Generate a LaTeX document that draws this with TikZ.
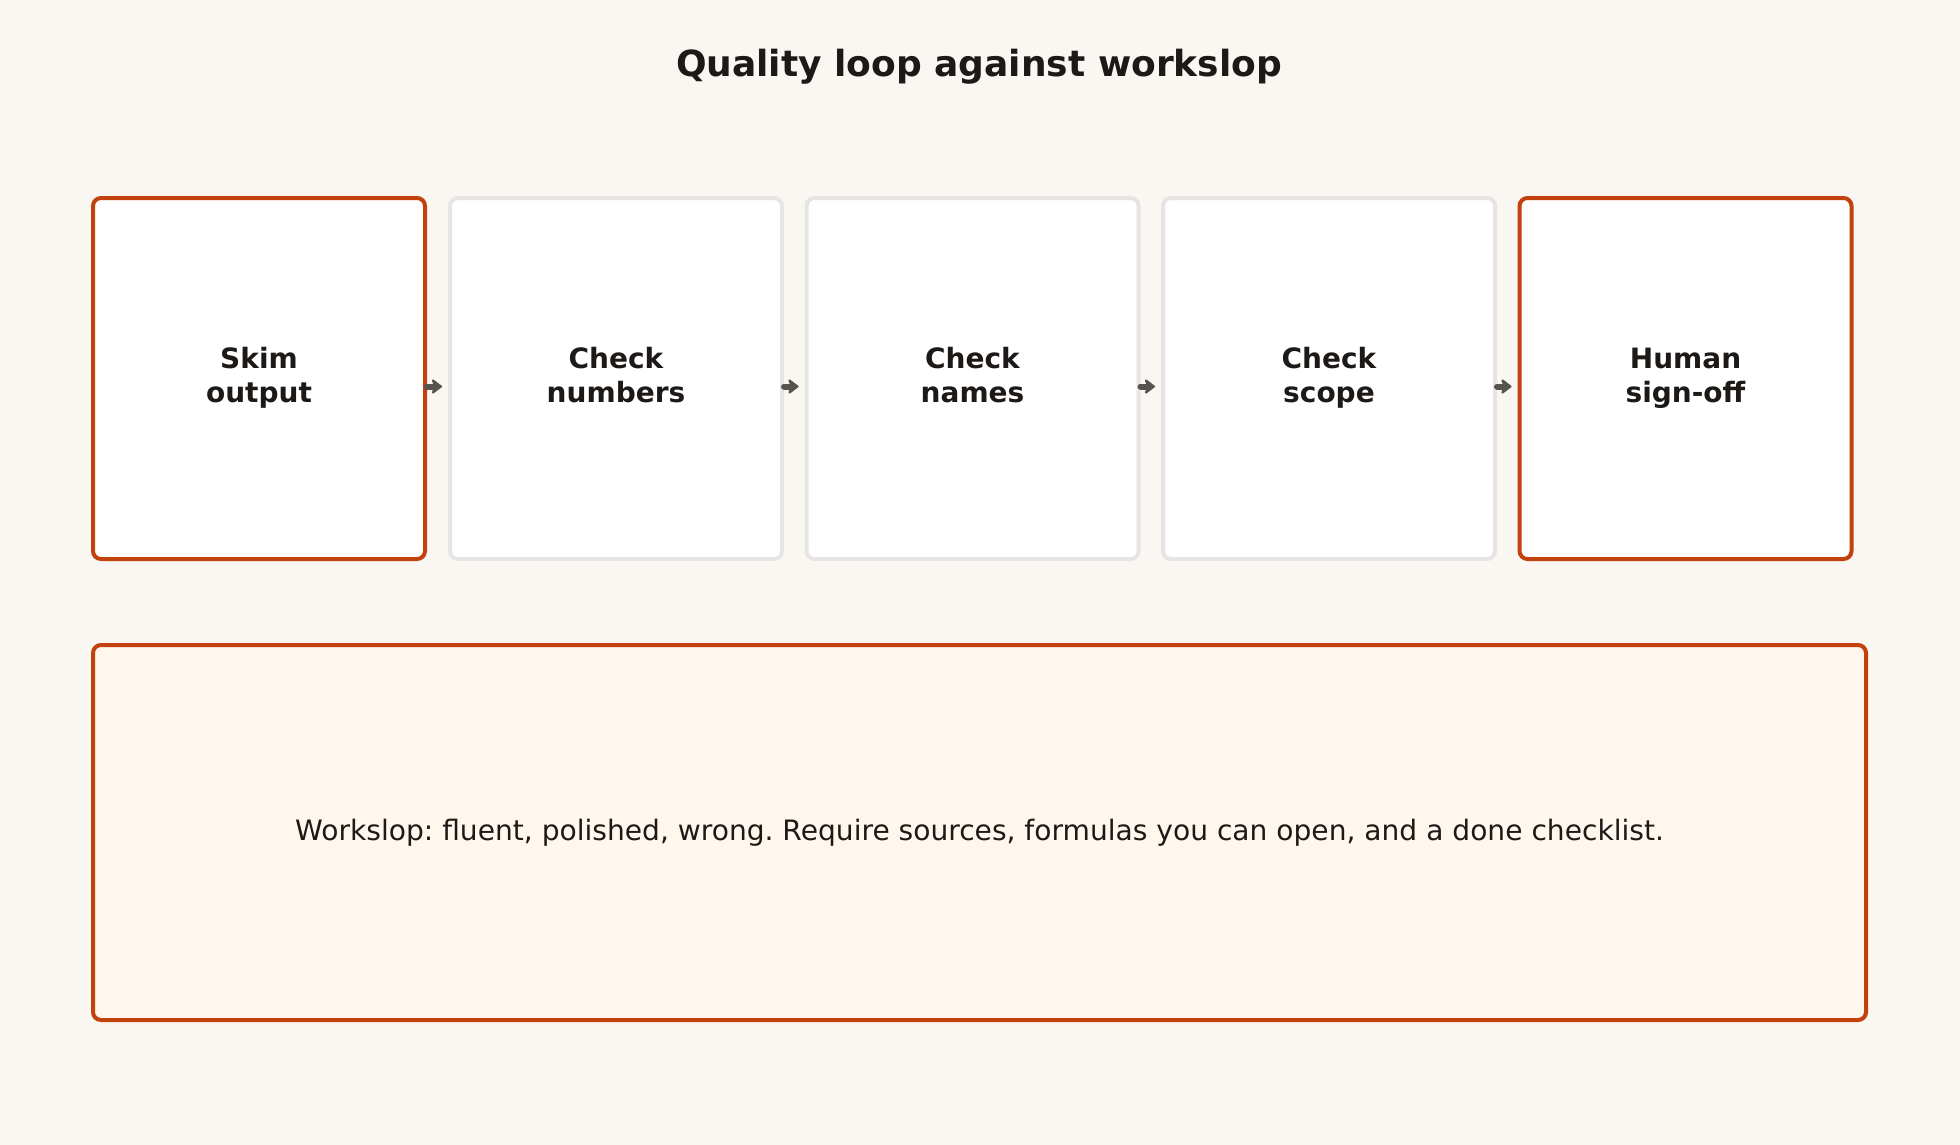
\documentclass[tikz,border=0pt]{standalone}
\usepackage{fontspec}
\setmainfont{DejaVu Sans}
\usetikzlibrary{arrows.meta}
\definecolor{bg}{HTML}{FAF7F3}
\definecolor{accent}{HTML}{C2410C}
\definecolor{graybd}{HTML}{E7E5E4}
\definecolor{ink}{HTML}{1C1917}
\definecolor{arrowc}{HTML}{57534E}
\definecolor{notefill}{HTML}{FFF7ED}
\tikzset{
  stepbox/.style={draw=graybd, fill=white, line width=4pt, rounded corners=8pt,
    minimum width=332pt, minimum height=361pt, inner sep=0pt, align=center,
    text=ink, font=\fontsize{28}{34}\selectfont\bfseries},
  keybox/.style={stepbox, draw=accent},
  notebox/.style={draw=accent, fill=notefill, line width=4pt, rounded corners=8pt,
    minimum width=1773pt, minimum height=375pt, inner sep=0pt, text=ink,
    font=\fontsize{28.1}{34}\selectfont},
  flow/.style={draw=arrowc, line width=6pt, line cap=round,
    -{Stealth[length=12pt,width=18pt,round,inset=3.5pt]}, shorten >=6pt},
}
\begin{document}
\frenchspacing
\begin{tikzpicture}[x=1pt,y=-1pt]
\useasboundingbox (0,0) rectangle (1960,1145);
\fill[bg] (0,0) rectangle (1960,1145);
\node[text=ink, font=\fontsize{36}{43}\selectfont\bfseries] (title) at (979,67) {Quality loop against workslop};
\node[keybox] (s1) at (259,378.5) {\strut Skim\\output\strut};
\node[stepbox] (s2) at (616,378.5) {\strut Check\\numbers\strut};
\node[stepbox] (s3) at (972.5,378.5) {\strut Check\\names\strut};
\node[stepbox] (s4) at (1329,378.5) {\strut Check\\scope\strut};
\node[keybox] (s5) at (1685.5,378.5) {\strut Human\\sign-off\strut};
\foreach \a/\b in {s1/s2,s2/s3,s3/s4,s4/s5}{
  \draw[flow] ([yshift=-8pt]\a.east) -- ([yshift=-8pt]\b.west);
}
\node[notebox] (note) at (979.5,832.5) {Workslop: fluent, polished, wrong. Require sources, formulas you can open, and a done checklist.};
\end{tikzpicture}
\end{document}
